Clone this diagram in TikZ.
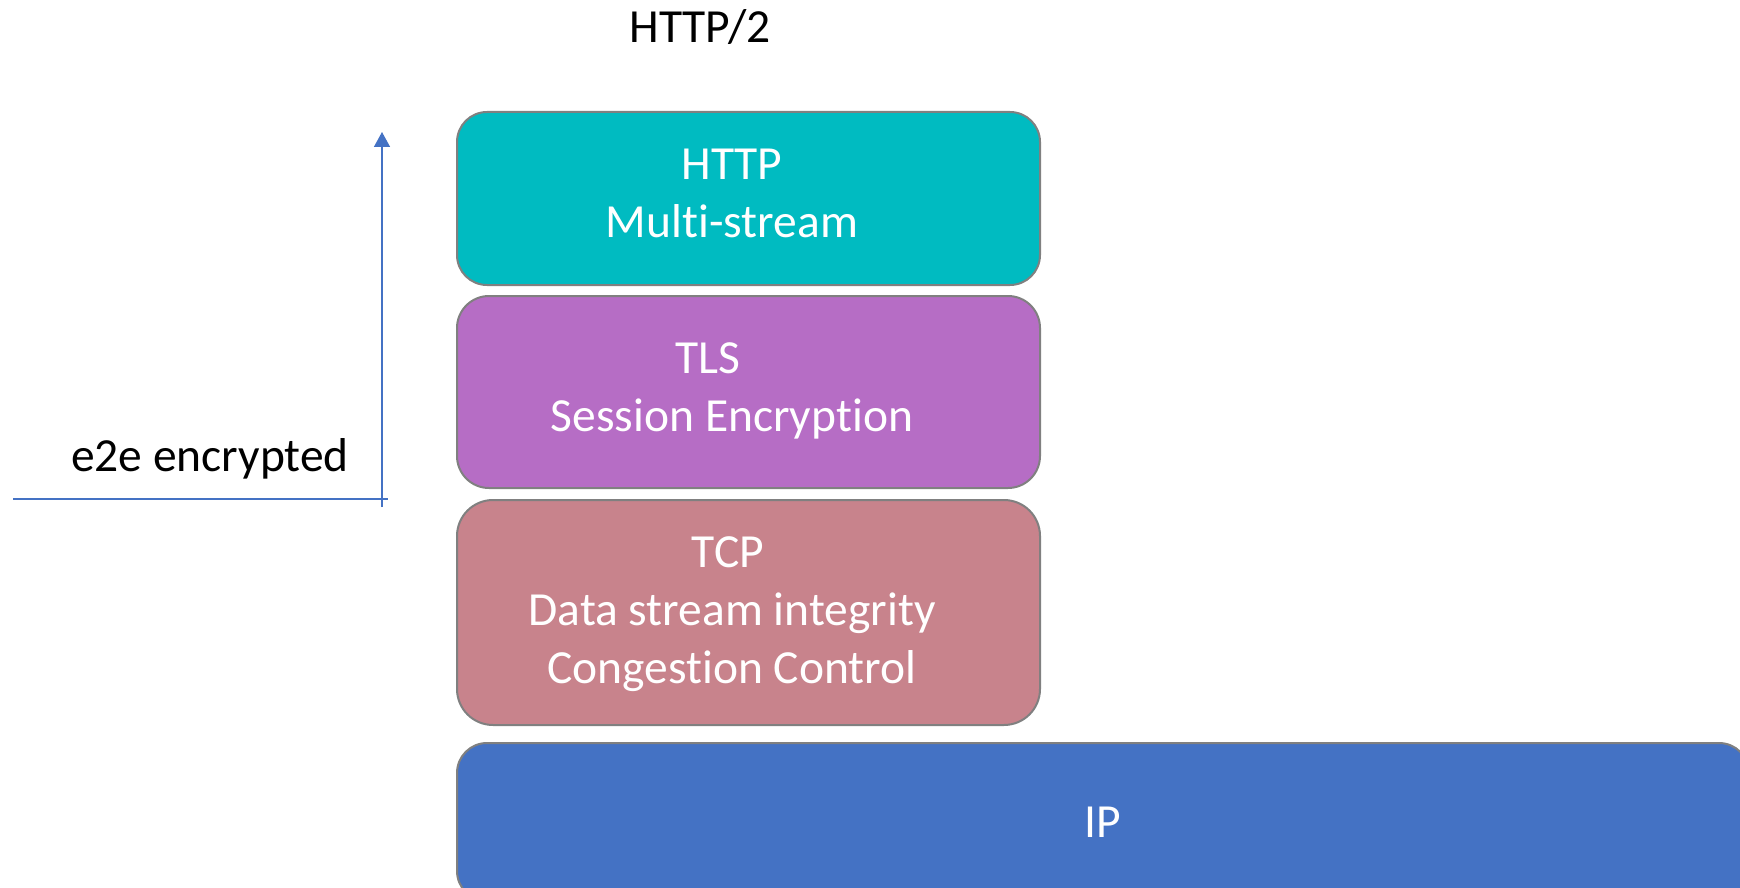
\documentclass[tikz,border=0pt]{standalone}
\usepackage{fontspec}
\setmainfont{Carlito}[Ligatures=NoCommon]
\usetikzlibrary{arrows.meta}
\definecolor{httpc}{HTML}{00BBC1}
\definecolor{tlsc}{HTML}{B66DC5}
\definecolor{tcpc}{HTML}{C8838C}
\definecolor{ipc}{HTML}{4472C4}
\definecolor{edgec}{HTML}{808080}
\definecolor{arrc}{HTML}{4472C4}
\tikzset{
  layer/.style={draw=edgec, line width=2pt, anchor=north west, inner sep=0pt, outer sep=0pt},
  ltext/.style={text=white, align=center, font=\fontsize{47.5}{58}\selectfont, inner sep=0pt, anchor=base},
  btext/.style={text=black, font=\fontsize{47.5}{58}\selectfont, inner sep=0pt},
  axisline/.style={draw=arrc, line width=1.5pt}
}
\begin{document}
\begin{tikzpicture}[x=1pt,y=-1pt]
\useasboundingbox (0,0) rectangle (1740,888);
\clip (0,0) rectangle (1740,888);
\node[btext, anchor=base] (title) at (700,43) {HTTP/2};
\node[layer, fill=httpc, rounded corners=30pt, minimum width=583pt, minimum height=173pt] (http) at (457,112) {};
\node[layer, fill=tlsc, rounded corners=32pt, minimum width=583pt, minimum height=192pt] (tls) at (457,296) {};
\node[layer, fill=tcpc, rounded corners=36pt, minimum width=583pt, minimum height=225pt] (tcp) at (457,500) {};
\node[layer, fill=ipc, rounded corners=30pt, minimum width=1292pt, minimum height=158pt] (ip) at (457,743) {};
\node[ltext] (httpt) at (732,237) {HTTP\\Multi-stream};
\node[ltext] (tlst) at (732,431) {TLS\hspace*{48pt}\\Session Encryption};
\node[ltext] (tcpt) at (732,683) {TCP\hspace*{8pt}\\Data stream integrity\\Congestion Control};
\node[ltext] (ipt) at (1103,837) {IP};
\node[btext, anchor=base east] (e2e) at (349,471) {e2e encrypted};
\coordinate (vbot) at (382,507);
\coordinate (vtop) at (382,132);
\coordinate (hl) at (13,499);
\coordinate (hr) at (388,499);
\draw[axisline, -{Triangle[length=15pt,width=16pt]}] (vbot) -- (vtop);
\draw[axisline] (hl) -- (hr);
\end{tikzpicture}
\end{document}
